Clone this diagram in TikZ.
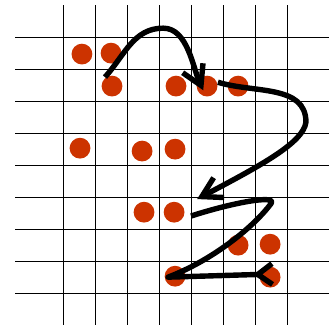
\documentclass[tikz,border=0pt]{standalone}
\usepackage{tikz}
\usetikzlibrary{arrows.meta}
\definecolor{token}{HTML}{CC3300}
\tikzset{
  grd/.style={line width=0.9pt},
  dot/.style={circle, fill=token, minimum size=6.5mm, inner sep=0pt},
  move/.style={line width=4.8pt, line join=round, -{Straight Barb[length=6mm, width=7mm]}},
  moveback/.style={line width=4.8pt, line join=round, -{Straight Barb[reversed, length=4.5mm, width=6.5mm]}},
}

\begin{document}
\begin{tikzpicture}
  \useasboundingbox (-1.97,-9) rectangle (8.31,1.16);
  % board
  \foreach \c in {0,...,7}
    \draw[grd] (\c,1) -- (\c,-9);
  \foreach \r in {0,-1,...,-8}
    \draw[grd] (-1.5,\r) -- (8.31,\r);
  % tokens
  \foreach \x/\y [count=\i] in {0.59/-0.53, 1.5/-0.5, 1.53/-1.53, 3.53/-1.53, 4.5/-1.53, 5.47/-1.53,
      0.53/-3.47, 2.47/-3.56, 3.5/-3.5, 2.53/-5.47, 3.47/-5.47, 5.47/-6.5, 6.47/-6.47,
      3.5/-7.47, 6.47/-7.5}
    \node[dot] (d\i) at (\x,\y) {};
  % moves
  \coordinate (s1) at (1.31,-1.25);
  \coordinate (p1) at (3.13,0.28);
  \coordinate (e1) at (4.38,-1.66);
  \coordinate (s2) at (4.84,-1.41);
  \coordinate (p2) at (7.59,-2.66);
  \coordinate (e2) at (4.19,-5.06);
  \coordinate (s3) at (4.0,-5.59);
  \coordinate (p3) at (6.5,-5.2);
  \coordinate (c3) at (3.28,-7.5);
  \coordinate (e3) at (6.62,-7.4);
  \draw[move] (s1) to[out=48,in=180] (p1) to[out=0,in=115,looseness=0.85] (e1);
  \draw[move] (s2) to[out=-17,in=90] (p2) .. controls (7.5,-3.3) and (6.2,-4.0) .. (e2);
  \draw[moveback] (s3) .. controls (5.2,-5.2) and (6.7,-4.9) .. (p3)
    .. controls (5.9,-6.0) and (4.6,-7.0) .. (c3) -- (e3);
\end{tikzpicture}
\end{document}
